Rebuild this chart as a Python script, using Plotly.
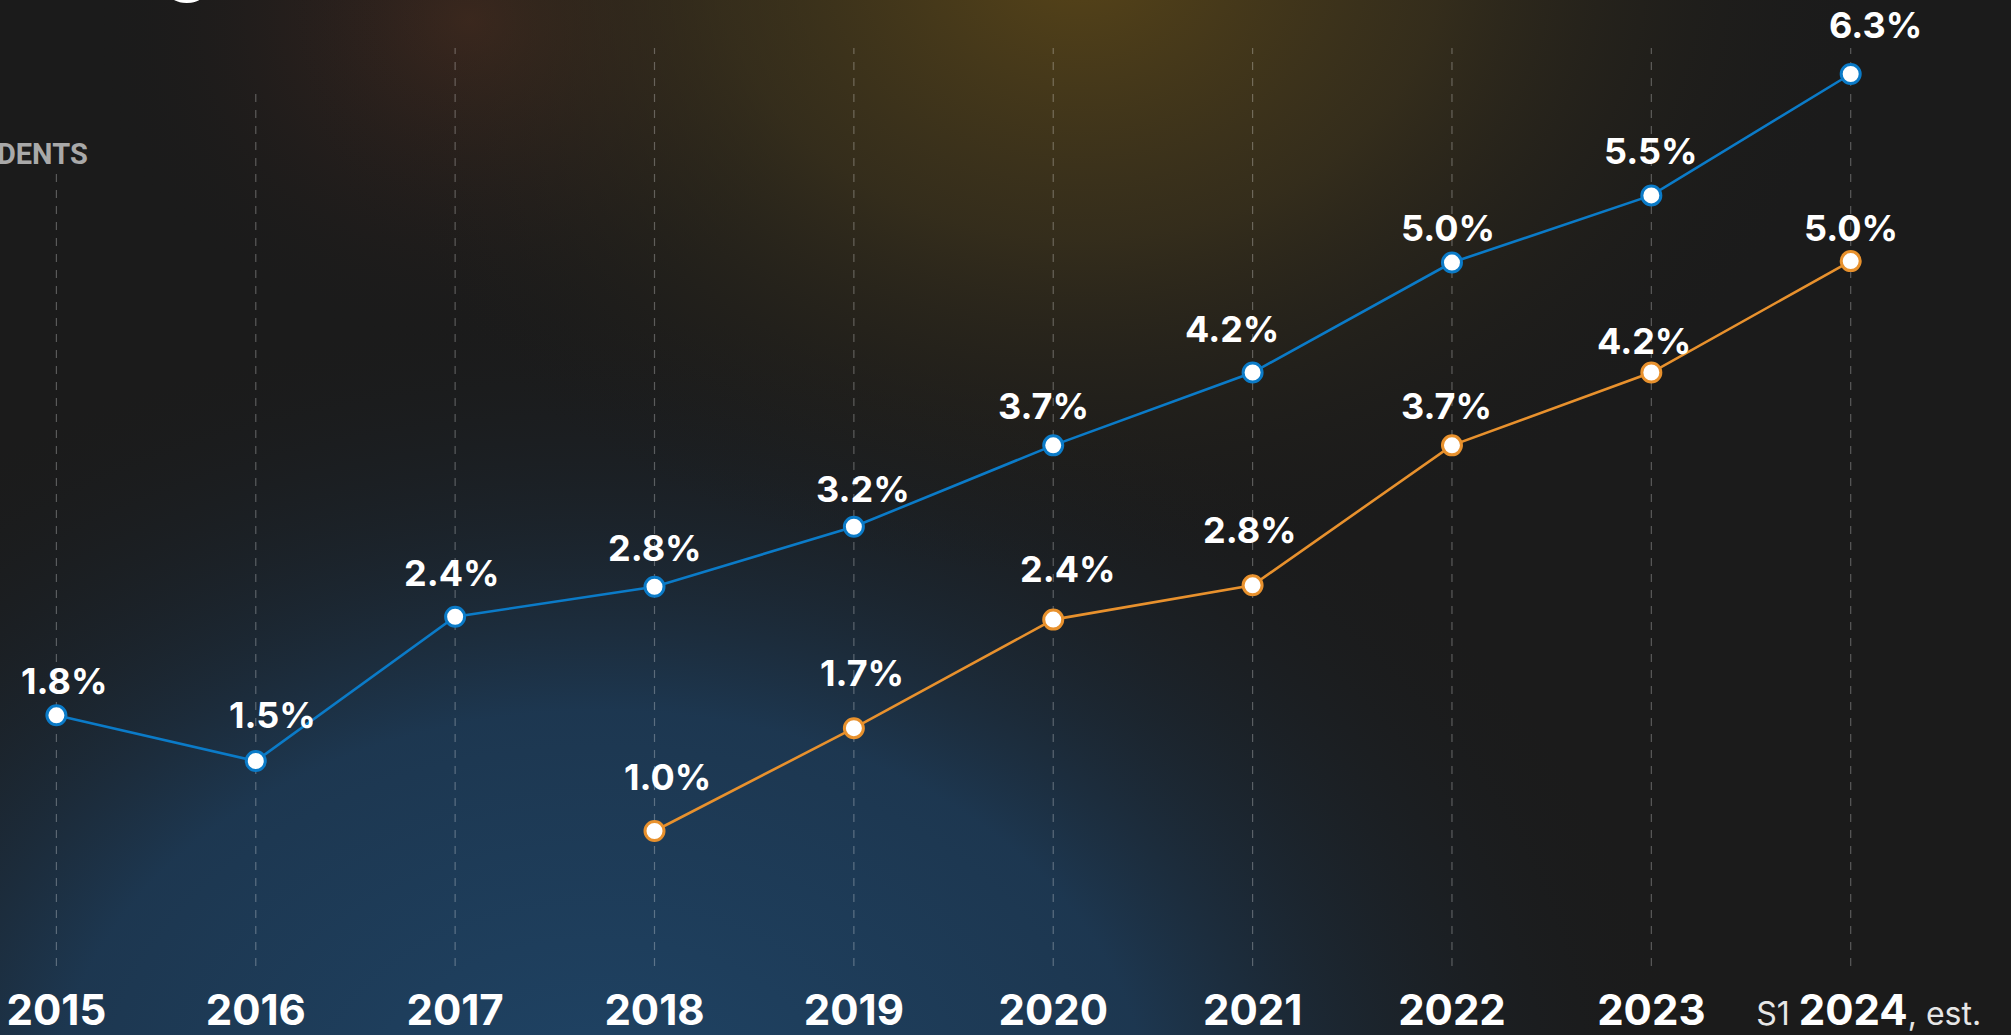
import base64
import plotly.graph_objects as go

# ---------------- data ----------------
years = [2015, 2016, 2017, 2018, 2019, 2020, 2021, 2022, 2023, 2024]
tick_labels = ["2015", "2016", "2017", "2018", "2019", "2020", "2021", "2022", "2023", "2024"]
blue_values = [1.81, 1.49, 2.50, 2.71, 3.13, 3.70, 4.21, 4.98, 5.45, 6.30]
blue_labels = ["1.8%", "1.5%", "2.4%", "2.8%", "3.2%", "3.7%", "4.2%", "5.0%", "5.5%", "6.3%"]
orange_years = [2018, 2019, 2020, 2021, 2022, 2023, 2024]
orange_values = [1.00, 1.72, 2.48, 2.72, 3.70, 4.21, 4.99]
orange_labels = ["1.0%", "1.7%", "2.4%", "2.8%", "3.7%", "4.2%", "5.0%"]

# label offsets (style: pixels from the marker)
blue_off = [(8, 34), (17, 46), (-3, 44), (0, 39), (9, 38), (-10, 39), (-21, 44), (-4, 35), (0, 44), (25, 49)]
orange_off = [(13, 54), (8, 55), (15, 51), (-3, 55), (-5, 39), (-7, 32), (0, 33)]

W, H = 2011, 1035
MB = 80
PH = H - MB

BLUE = "#0B7BC8"
ORANGE = "#E8912D"

# ---------------- background (svg gradients) ----------------
svg = f"""<svg xmlns='http://www.w3.org/2000/svg' width='{W}' height='{H}' viewBox='0 0 {W} {H}'>
<defs>
<radialGradient id='blue' cx='0' cy='0' r='1' gradientUnits='userSpaceOnUse' gradientTransform='translate(600 1120) scale(1100 820)'>
<stop offset='0' stop-color='#1f4466' stop-opacity='1'/>
<stop offset='0.5' stop-color='#1d3a56' stop-opacity='0.9'/>
<stop offset='1' stop-color='#1a1a1a' stop-opacity='0'/>
</radialGradient>
<radialGradient id='gold' cx='0' cy='0' r='1' gradientUnits='userSpaceOnUse' gradientTransform='translate(1080 -40) scale(800 620)'>
<stop offset='0' stop-color='#5a4618' stop-opacity='0.95'/>
<stop offset='0.45' stop-color='#45391c' stop-opacity='0.6'/>
<stop offset='1' stop-color='#1a1a1a' stop-opacity='0'/>
</radialGradient>
<radialGradient id='red' cx='0' cy='0' r='1' gradientUnits='userSpaceOnUse' gradientTransform='translate(470 20) scale(380 330)'>
<stop offset='0' stop-color='#43291f' stop-opacity='0.9'/>
<stop offset='1' stop-color='#1a1a1a' stop-opacity='0'/>
</radialGradient>
</defs>
<rect width='{W}' height='{H}' fill='#1b1b1b'/>
<rect width='{W}' height='{H}' fill='url(#blue)'/>
<rect width='{W}' height='{H}' fill='url(#red)'/>
<rect width='{W}' height='{H}' fill='url(#gold)'/>
</svg>"""
bg_src = "data:image/svg+xml;base64," + base64.b64encode(svg.encode()).decode()

fig = go.Figure()

fig.add_trace(go.Scatter(
    x=years, y=blue_values, mode="lines+markers",
    line=dict(color=BLUE, width=2.6),
    marker=dict(size=19, color="white", line=dict(color=BLUE, width=3)),
    hoverinfo="skip", cliponaxis=False,
))
fig.add_trace(go.Scatter(
    x=orange_years, y=orange_values, mode="lines+markers",
    line=dict(color=ORANGE, width=2.6),
    marker=dict(size=19, color="white", line=dict(color=ORANGE, width=3)),
    hoverinfo="skip", cliponaxis=False,
))

LABEL_FONT = dict(family="Inter, sans-serif", size=36, color="white", weight=700)
annotations = []
for x, y, t, (dx, dy) in zip(years, blue_values, blue_labels, blue_off):
    annotations.append(dict(x=x, y=y, xref="x", yref="y", text=t, showarrow=False,
                            xshift=dx, yshift=dy, font=LABEL_FONT))
for x, y, t, (dx, dy) in zip(orange_years, orange_values, orange_labels, orange_off):
    annotations.append(dict(x=x, y=y, xref="x", yref="y", text=t, showarrow=False,
                            xshift=dx, yshift=dy, font=LABEL_FONT))

# subtitle fragment (cropped at left edge) and title fragment (cropped at top)
annotations.append(dict(x=90 / W, y=(PH - 154) / PH, xref="paper", yref="paper",
                        xanchor="right", yanchor="middle", text="STUDENTS", showarrow=False,
                        font=dict(family="Roboto, sans-serif", size=29, color="#a9a9a9", weight=700)))
annotations.append(dict(x=214 / W, y=(PH - 7) / PH, xref="paper", yref="paper",
                        xanchor="right", yanchor="bottom", text="Growing", showarrow=False,
                        font=dict(family="Inter, sans-serif", size=80, color="white", weight=500)))

# dashed vertical guides
guide_tops = [172, 90, 48, 48, 48, 48, 48, 48, 48, 48]
shapes = []
for yr, top in zip(years, guide_tops):
    shapes.append(dict(type="line", xref="x", yref="paper", x0=yr, x1=yr,
                       y0=(PH - 966) / PH, y1=(PH - top) / PH,
                       line=dict(color="rgba(255,255,255,0.28)", width=1.2, dash="8px,8px"),
                       layer="below"))

SMALL = "font-size:32px;font-weight:400;color:#e6e6e6"
ticktext = [f"<b>{t}</b>" for t in tick_labels[:-1]]
ticktext.append(f"<span style='{SMALL}'>\u00a0\u00a0\u00a0\u00a0S1 </span>"
                f"<b>{tick_labels[-1]}</b>"
                f"<span style='{SMALL}'>, est.</span>")

px_per_year = (1850.7 - 56.4) / 9
xmin = 2015 - 56.4 / px_per_year
xmax = xmin + W / px_per_year
px_per_unit = (831 - 74) / 5.3
ymax = 6.3 + 74 / px_per_unit
ymin = ymax - PH / px_per_unit

fig.update_layout(
    width=W, height=H,
    margin=dict(l=0, r=0, t=0, b=MB, autoexpand=False),
    paper_bgcolor="#1b1b1b", plot_bgcolor="rgba(0,0,0,0)",
    showlegend=False,
    images=[dict(source=bg_src, xref="paper", yref="paper", x=0, y=1,
                 sizex=1, sizey=H / PH, xanchor="left", yanchor="top",
                 sizing="stretch", layer="below")],
    xaxis=dict(range=[xmin, xmax], tickvals=years, ticktext=ticktext,
               showgrid=False, zeroline=False, showline=False, ticks="",
               tickfont=dict(family="Inter, sans-serif", size=42, color="white"),
               ticklabelstandoff=27, automargin=False, fixedrange=True),
    yaxis=dict(range=[ymin, ymax], showgrid=False, zeroline=False, showline=False,
               showticklabels=False, ticks="", automargin=False, fixedrange=True),
    annotations=annotations,
    shapes=shapes,
)

fig.write_html("out.html", config={"displayModeBar": False},
               post_script="document.body.style.margin='0';document.body.style.overflow='hidden';")
